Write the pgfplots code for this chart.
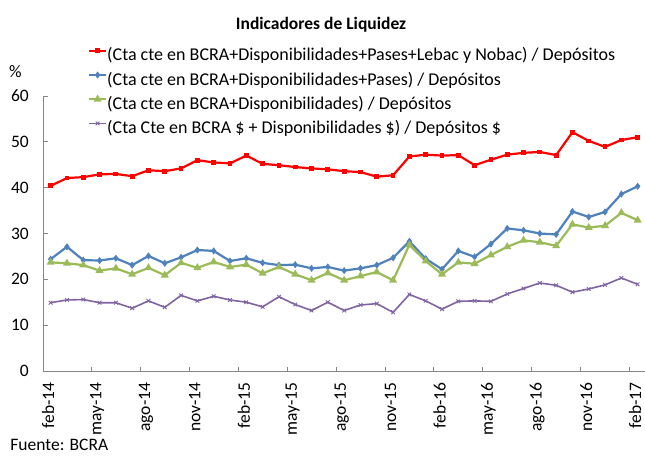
\documentclass[border=0pt]{standalone}
\usepackage{pgfplots}
\pgfplotsset{compat=1.18}
\usepackage{fontspec}
\setmainfont{Carlito}
\definecolor{cred}{HTML}{FF0000}
\definecolor{cblue}{HTML}{4F81BD}
\definecolor{cgreen}{HTML}{9BBB59}
\definecolor{cpurple}{HTML}{8064A2}
\definecolor{caxis}{HTML}{868686}
\pgfplotstableread{
x red blue green purple
0 40.4 24.4 23.7 14.9
1 42.1 27.1 23.5 15.5
2 42.3 24.2 23.1 15.6
3 42.9 24.1 21.9 14.9
4 43.0 24.6 22.4 14.9
5 42.5 23.1 21.1 13.7
6 43.8 25.1 22.5 15.3
7 43.6 23.5 20.9 13.9
8 44.2 24.8 23.6 16.5
9 46.0 26.4 22.5 15.3
10 45.5 26.2 23.8 16.3
11 45.3 24.0 22.7 15.5
12 47.0 24.6 23.2 15.0
13 45.2 23.6 21.3 14.0
14 44.9 23.1 22.7 16.2
15 44.5 23.2 21.1 14.5
16 44.2 22.4 19.8 13.2
17 44.0 22.7 21.4 15.0
18 43.6 21.9 19.8 13.2
19 43.4 22.4 20.7 14.4
20 42.4 23.1 21.6 14.7
21 42.7 24.7 19.8 12.8
22 46.8 28.3 27.5 16.7
23 47.2 24.5 24.0 15.3
24 47.0 22.2 21.1 13.5
25 47.1 26.2 23.7 15.2
26 44.9 24.9 23.4 15.3
27 46.1 27.7 25.3 15.2
28 47.2 31.1 27.1 16.8
29 47.6 30.7 28.5 18.0
30 47.8 30.0 28.1 19.2
31 47.1 29.8 27.3 18.7
32 52.1 34.8 32.0 17.2
33 50.2 33.6 31.3 17.9
34 48.9 34.7 31.7 18.8
35 50.4 38.6 34.5 20.3
36 51.0 40.3 32.9 18.9
}\datatable
\begin{document}
\begin{tikzpicture}
\useasboundingbox (-43.3pt,-85pt) rectangle (601.7pt,371pt);
\begin{axis}[
  at={(0pt,0pt)}, anchor=south west,
  scale only axis, width=601.7pt, height=275pt,
  xmin=-0.45, xmax=36.45, ymin=0, ymax=60,
  clip=false,
  axis x line*=bottom, axis y line*=left,
  axis line style={draw=caxis, line width=0.8pt},
  tick style={draw=caxis, line width=0.8pt},
  tick align=inside,
  major tick length=4.5pt,
  ytick={0,10,...,60},
  xtick={2.5,5.5,...,35.5},
  xticklabels={},
  extra x ticks={0,3,...,36},
  extra x tick labels={feb-14,may-14,ago-14,nov-14,feb-15,may-15,ago-15,nov-15,feb-16,may-16,ago-16,nov-16,feb-17},
  extra x tick style={major tick length=0pt, tick style={draw=none},
     xticklabel style={rotate=90, anchor=east, inner sep=1pt, xshift=-10.5pt, yshift=2.5pt}},
  /pgf/number format/assume math mode=true,
  ticklabel style={font=\fontsize{17.5}{21}\selectfont},
  yticklabel style={xshift=-11pt},
  legend style={at={(rel axis cs:0.0743,1.181)}, anchor=north west, draw=none, fill=none,
     font=\fontsize{18}{21}\selectfont, row sep=8pt, inner sep=0pt, outer sep=0pt,
     nodes={inner sep=0pt},
     /tikz/every even column/.append style={column sep=2pt}},
  legend cell align=left,
  legend image code/.code={\draw[mark repeat=2,mark phase=2] plot coordinates {(0pt,3.5pt) (8.5pt,3.5pt) (17pt,3.5pt)};},
]
\addplot[cred, line width=2.2pt, mark=square*, mark size=1.3pt] table[x=x,y=red] {\datatable};
\addlegendentry{\strut(Cta cte en BCRA+Disponibilidades+Pases+Lebac y Nobac) / Depósitos}
\addplot[cblue, line width=2.2pt, mark=diamond*, mark size=1.8pt] table[x=x,y=blue] {\datatable};
\addlegendentry{\strut(Cta cte en BCRA+Disponibilidades+Pases) / Depósitos}
\addplot[cgreen, line width=2.2pt, mark=triangle*, mark size=2.5pt] table[x=x,y=green] {\datatable};
\addlegendentry{\strut(Cta cte en BCRA+Disponibilidades) / Depósitos}
\addplot[cpurple, line width=1.6pt, mark=x, mark size=2.6pt, mark options={line width=0.9pt}] table[x=x,y=purple] {\datatable};
\addlegendentry{\strut(Cta Cte en BCRA \$ + Disponibilidades \$) / Depósitos \$}
\node[font=\bfseries\fontsize{17.5}{21}\selectfont, anchor=base] at (rel axis cs:0.4615,1.2436) {Indicadores de Liquidez};
\node[font=\fontsize{17.5}{21}\selectfont] at (rel axis cs:-0.0462,1.087) {\%};
\node[font=\fontsize{17.5}{21}\selectfont, anchor=base west, inner sep=0pt] at (rel axis cs:-0.055,-0.290) {Fuente: BCRA};
\end{axis}
\end{tikzpicture}
\end{document}
